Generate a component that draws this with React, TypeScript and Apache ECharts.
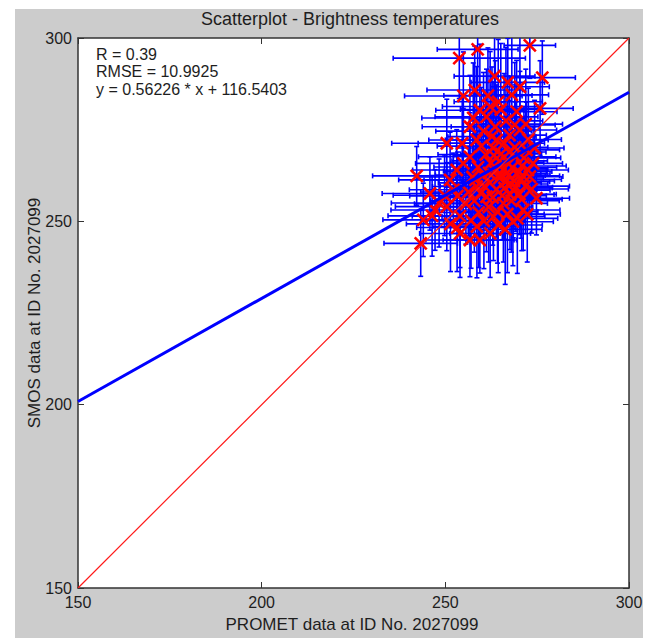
import React, { useEffect, useRef } from "react";
import * as echarts from "echarts";

// PROMET (x) values
const promet = [
  258.8, 273.0, 253.8, 276.4, 270.3, 254.9, 275.8, 264.4, 268.1, 269.4,
  262.2, 259.4, 261.2, 256.7, 250.4, 254.6, 264.0, 258.5, 270.3, 272.1,
  256.7, 254.9, 253.1, 251.3, 258.5, 266.7, 261.2, 265.8, 268.5, 263.1,
  273.0, 273.9, 242.2, 243.3, 245.8, 247.2, 250.4, 254.0, 254.0, 256.7,
  259.4, 244.0, 274.8, 271.2, 264.4, 262.2, 246.4,
  265.2, 266.8, 268.3, 269.5, 270.6, 267.9, 266.1, 264.7, 263.5, 262.4,
  261.0, 259.8, 263.0, 266.0, 268.9, 271.4, 272.5, 271.8, 270.2, 268.0,
  265.5, 263.9, 262.1, 260.3, 258.9, 257.4, 259.6, 261.8, 264.2, 266.9,
  269.6, 272.3, 273.5, 270.9, 269.1, 267.4, 265.9, 264.8, 263.2, 261.9,
  267.2, 268.7, 270.0, 271.1, 266.4, 265.0, 269.2, 270.8, 267.6, 262.9,
  260.6, 258.2, 256.3, 257.9, 259.1, 257.0, 255.6, 253.3, 252.2, 249.8,
  248.3, 251.4, 253.2, 258.6, 260.5, 266.3, 268.4, 263.6, 266.5, 268.9,
  260.4, 262.7, 257.6, 265.1, 267.5, 272.6, 274.3, 271.9, 261.6, 267.0,
  258.0, 263.4,
];
// SMOS (y) values
const smos = [
  296.9, 298.0, 294.5, 289.2, 286.7, 284.2, 280.8, 282.6, 284.5, 279.9,
  281.3, 280.3, 278.5, 275.8, 271.3, 271.3, 272.2, 272.2, 274.9, 269.5,
  267.6, 265.8, 264.0, 261.3, 259.5, 263.1, 256.7, 254.9, 258.5, 251.3,
  262.2, 265.8, 262.4, 244.0, 257.6, 253.1, 254.0, 251.4, 246.7, 244.9,
  244.9, 250.4, 256.3, 253.1, 249.0, 246.7, 251.5,
  268.4, 266.1, 264.7, 262.9, 261.4, 260.2, 259.1, 261.8, 263.7, 265.9,
  268.2, 270.5, 270.0, 271.3, 270.2, 267.3, 264.0, 259.6, 257.4, 255.6,
  257.0, 258.7, 260.5, 262.6, 264.8, 262.1, 257.7, 253.9, 252.6, 252.0,
  250.8, 251.9, 258.8, 265.1, 267.6, 268.9, 264.3, 266.5, 268.0, 263.2,
  262.5, 261.0, 263.6, 262.4, 260.8, 262.9, 259.3, 256.0, 257.3, 256.5,
  259.6, 261.3, 258.0, 255.6, 252.4, 250.2, 254.8, 256.9, 258.6, 257.1,
  255.0, 249.3, 248.3, 248.6, 250.1, 247.8, 249.9, 275.8, 277.4, 276.3,
  274.6, 273.1, 278.2, 280.5, 273.5, 272.3, 270.0, 276.5, 284.3, 287.9,
  285.8, 289.6,
];
// error half-widths
const prometErr = [
  11, 7, 18, 9, 8, 16, 9, 12, 10, 11,
  13, 12, 14, 13, 15, 12, 14, 13, 10, 9,
  14, 13, 12, 14, 12, 11, 13, 12, 10, 14,
  9, 8, 12, 10, 13, 12, 14, 13, 11, 12,
  10, 11, 9, 10, 12, 11, 12,
  11, 10, 12, 9, 11, 10, 13, 12, 14, 11,
  13, 12, 10, 11, 9, 10, 11, 12, 10, 13,
  12, 11, 14, 13, 12, 15, 13, 12, 11, 10,
  11, 9, 10, 12, 11, 10, 12, 13, 11, 12,
  10, 11, 9, 10, 12, 11, 10, 11, 12, 13,
  12, 14, 13, 12, 13, 12, 14, 13, 12, 14,
  13, 12, 11, 12, 11, 10, 11, 12, 10, 11,
  13, 12, 14, 11, 10, 9, 8, 10, 12, 10,
  13, 11,
];
const smosErr = [
  12, 9, 11, 10, 14, 12, 13, 17, 16, 14,
  15, 18, 13, 14, 12, 13, 15, 20, 16, 13,
  12, 15, 11, 13, 14, 12, 15, 16, 13, 12,
  11, 10, 8, 9, 10, 11, 12, 14, 12, 10,
  9, 10, 10, 11, 13, 12, 11,
  14, 13, 15, 12, 16, 11, 14, 13, 12, 15,
  17, 16, 18, 19, 17, 14, 12, 13, 11, 14,
  12, 13, 12, 14, 13, 11, 12, 15, 14, 16,
  15, 13, 12, 13, 15, 14, 12, 13, 16, 14,
  12, 13, 14, 11, 12, 13, 12, 14, 15, 13,
  12, 13, 12, 14, 15, 13, 11, 12, 10, 11,
  12, 13, 12, 14, 13, 15, 12, 18, 20, 17,
  16, 19, 15, 18, 16, 14, 13, 15, 13, 12,
  12, 11,
];

const axisMin = 150;
const axisMax = 300;
const axisStep = 50;
const fitSlope = 0.56226;
const fitIntercept = 116.5403;
const statsLines = ["R = 0.39", "RMSE = 10.9925", "y = 0.56226 * x + 116.5403"];
const titleText = "Scatterplot - Brightness temperatures";
const xTitle = "PROMET data at ID No. 2027099";
const yTitle = "SMOS data at ID No. 2027099";

const FONT = "'Liberation Sans', Arial, sans-serif";
const TXT = "#1e1e1e";

export default function App() {
  const ref = useRef<HTMLDivElement>(null);
  useEffect(() => {
    if (!ref.current) return;
    const chart = echarts.init(ref.current, undefined, { renderer: "svg" });
    const rows = promet.map((x, i) => [x, smos[i], prometErr[i], smosErr[i]]);
    const fitLine = [axisMin, axisMax].map((x) => [x, fitSlope * x + fitIntercept]);
    const idLine = [axisMin, axisMax].map((x) => [x, x]);
    const axisCommon = {
      type: "value",
      min: axisMin,
      max: axisMax,
      interval: axisStep,
      splitLine: { show: false },
      axisLine: { show: true, onZero: false, lineStyle: { color: "#333", width: 1.5 } },
      axisTick: { show: true, inside: true, length: 6, lineStyle: { color: "#333", width: 1 } },
    };
    const option: any = {
      animation: false,
      grid: { left: 78, top: 38, width: 551, height: 550, show: true, backgroundColor: "#ffffff", borderWidth: 0 },
      xAxis: [
        {
          ...axisCommon,
          position: "bottom",
          axisLabel: { color: TXT, fontSize: 16, fontFamily: FONT, margin: 6, showMinLabel: true, showMaxLabel: true },
        },
        { ...axisCommon, position: "top", axisLabel: { show: false } },
      ],
      yAxis: [
        {
          ...axisCommon,
          position: "left",
          axisLabel: { color: TXT, fontSize: 16, fontFamily: FONT, margin: 6, showMinLabel: true, showMaxLabel: true },
        },
        { ...axisCommon, position: "right", axisLabel: { show: false } },
      ],
      graphic: [
        { type: "text", x: 350, y: 19, style: { text: titleText, fill: TXT, font: `18px ${FONT}`, align: "center", verticalAlign: "middle" } },
        { type: "text", x: 352, y: 624, style: { text: xTitle, fill: TXT, font: `17px ${FONT}`, align: "center", verticalAlign: "middle" } },
        { type: "text", x: 34, y: 313, rotation: Math.PI / 2, style: { text: yTitle, fill: TXT, font: `17px ${FONT}`, align: "center", verticalAlign: "middle" } },
        ...statsLines.map((t, i) => ({
          type: "text",
          x: 96,
          y: 54 + i * 17.5,
          z: 100,
          style: { text: t, fill: TXT, font: `16px ${FONT}`, align: "left", verticalAlign: "middle" },
        })),
      ],
      series: [
        {
          type: "custom",
          clip: true,
          encode: { x: 0, y: 1 },
          data: rows,
          z: 2,
          renderItem: (_p: any, api: any) => {
            const x = api.value(0), y = api.value(1), xe = api.value(2), ye = api.value(3);
            const l = api.coord([x - xe, y]);
            const r = api.coord([x + xe, y]);
            const t = api.coord([x, y + ye]);
            const b = api.coord([x, y - ye]);
            const c = 2.5;
            const style = { stroke: "#0000ff", lineWidth: 1.6 };
            const ln = (x1: number, y1: number, x2: number, y2: number) => ({ type: "line", shape: { x1, y1, x2, y2 }, style });
            return {
              type: "group",
              children: [
                ln(l[0], l[1], r[0], r[1]),
                ln(t[0], t[1], b[0], b[1]),
                ln(l[0], l[1] - c, l[0], l[1] + c),
                ln(r[0], r[1] - c, r[0], r[1] + c),
                ln(t[0] - c, t[1], t[0] + c, t[1]),
                ln(b[0] - c, b[1], b[0] + c, b[1]),
              ],
            };
          },
        },
        {
          type: "custom",
          clip: true,
          encode: { x: 0, y: 1 },
          data: rows,
          z: 3,
          renderItem: (_p: any, api: any) => {
            const p = api.coord([api.value(0), api.value(1)]);
            const h = 6;
            const style = { stroke: "#ff0000", lineWidth: 2.6 };
            return {
              type: "group",
              children: [
                { type: "line", shape: { x1: p[0] - h, y1: p[1] - h, x2: p[0] + h, y2: p[1] + h }, style },
                { type: "line", shape: { x1: p[0] - h, y1: p[1] + h, x2: p[0] + h, y2: p[1] - h }, style },
              ],
            };
          },
        },
        {
          type: "line",
          data: fitLine,
          symbol: "none",
          z: 4,
          color: "#0000ff",
          lineStyle: { color: "#0000ff", width: 3 },
        },
        {
          type: "line",
          data: idLine,
          symbol: "none",
          z: 5,
          color: "#ff0000",
          itemStyle: { color: "#ff0000" },
          lineStyle: { color: "#ff1a1a", width: 1.2 },
        },
      ],
    };
    chart.setOption(option);
    return () => chart.dispose();
  }, []);
  return (
    <div style={{ position: "absolute", left: 0, top: 0, width: 652, height: 638, background: "#ffffff" }}>
      <div style={{ position: "absolute", left: 15, top: 9, width: 628, height: 629, background: "#cccccc" }} />
      <div ref={ref} style={{ position: "absolute", left: 0, top: 0, width: 652, height: 638 }} />
    </div>
  );
}
